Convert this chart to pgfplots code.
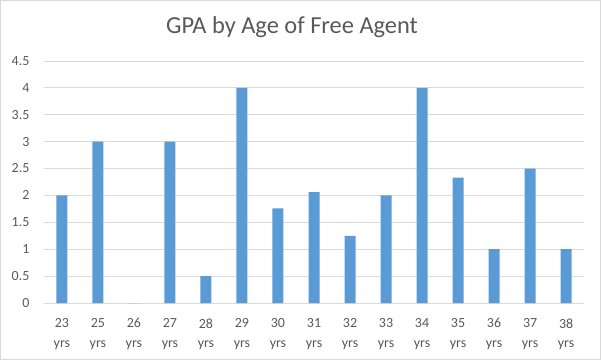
\documentclass[border=0pt]{standalone}
\usepackage{pgfplots}
\pgfplotsset{compat=1.18}
\usepackage{fontspec}
\setmainfont{Carlito}
\definecolor{barblue}{HTML}{5B9BD5}
\definecolor{txtgray}{HTML}{595959}
\definecolor{gridgray}{HTML}{D9D9D9}
\begin{document}
\begin{tikzpicture}
\draw[gridgray, line width=0.8bp] (0.5bp,0.5bp) rectangle (600.5bp,359.5bp);
\begin{axis}[
  at={(44bp,57bp)}, anchor=south west,
  scale only axis, width=540bp, height=242bp,
  xmin=-0.5, xmax=14.5, ymin=0, ymax=4.5,
  ytick={0,0.5,...,4.5},
  xtick={0,...,14},
  xticklabels={23\\yrs,25\\yrs,26\\yrs,27\\yrs,28\\yrs,29\\yrs,30\\yrs,31\\yrs,32\\yrs,33\\yrs,34\\yrs,35\\yrs,36\\yrs,37\\yrs,38\\yrs},
  xticklabel style={align=center, font=\fontsize{14}{20}\selectfont, text=txtgray, yshift=-12bp},
  yticklabel style={font=\fontsize{14}{16}\selectfont, text=txtgray, xshift=-11bp},
  /pgf/number format/assume math mode=true,
  yticklabel={\pgfmathprintnumber[fixed]{\tick}},
  major tick length=0pt,
  axis line style={draw=none},
  ymajorgrids, grid style={gridgray, line width=0.8bp},
  ybar, bar width=11bp,
]
\addplot[fill=barblue, draw=none] coordinates {
(0,2) (1,3) (2,0) (3,3) (4,0.5) (5,4) (6,1.76) (7,2.06) (8,1.25) (9,2) (10,4) (11,2.33) (12,1) (13,2.5) (14,1)};
\end{axis}
\node[font=\fontsize{24.5}{28}\selectfont, text=txtgray] at (292bp,333bp) {GPA by Age of Free Agent};
\end{tikzpicture}
\end{document}
